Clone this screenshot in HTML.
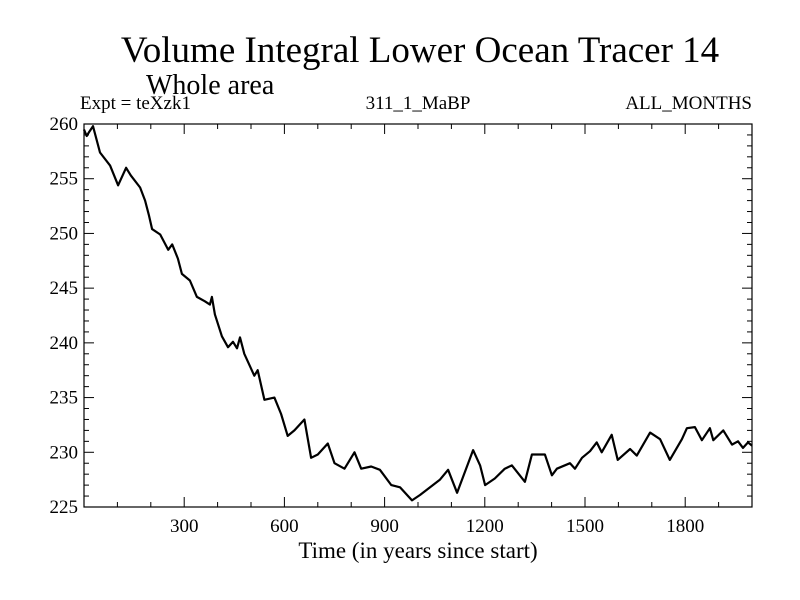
<!DOCTYPE html>
<html><head><meta charset="utf-8"><style>
body{margin:0;background:#fff;}
svg{display:block;font-family:"Liberation Serif",serif;}
</style></head><body>
<svg id="chart" width="800" height="600">
<text x="420" y="62" font-size="37" text-anchor="middle">Volume Integral Lower Ocean Tracer 14</text>
<text x="146" y="94" font-size="28">Whole area</text>
<text x="80" y="109" font-size="19">Expt = teXzk1</text>
<text x="418" y="109" font-size="19" text-anchor="middle">311_1_MaBP</text>
<text x="752" y="109" font-size="19" text-anchor="end">ALL_MONTHS</text>
<text x="418" y="558" font-size="23" text-anchor="middle">Time (in years since start)</text>
<g id="axes"></g>
<path id="line" fill="none" stroke="#000" stroke-width="2.2" stroke-linejoin="round"></path>
<rect x="84" y="124" width="668" height="383" fill="none" stroke="#000" stroke-width="1.2"></rect>
</svg>
<script>
const years = [0,8,16,27,48,78,102,126,140,168,183,194,204,228,252,264,281,293,317,338,362,377,383,392,413,431,446,458,467,480,510,520,540,570,590,610,630,660,680,700,730,750,780,810,830,860,886,920,946,982,1006,1066,1090,1117,1165,1186,1201,1230,1260,1281,1320,1341,1380,1401,1416,1455,1470,1491,1515,1535,1550,1580,1598,1635,1655,1695,1725,1754,1790,1805,1829,1850,1874,1884,1914,1940,1958,1973,1988,2000];
const values = [259.5,258.9,259.3,259.8,257.4,256.2,254.4,256.0,255.3,254.2,253.0,251.7,250.4,249.9,248.5,249.0,247.7,246.3,245.7,244.2,243.8,243.5,244.2,242.6,240.6,239.6,240.1,239.5,240.5,239.0,237.0,237.5,234.8,235.0,233.5,231.5,232.0,233.0,229.5,229.8,230.8,229.0,228.5,230.0,228.5,228.7,228.4,227.0,226.8,225.6,226.1,227.5,228.4,226.3,230.2,228.8,227.0,227.6,228.5,228.8,227.3,229.8,229.8,227.9,228.5,229.0,228.5,229.5,230.1,230.9,230.0,231.6,229.3,230.3,229.7,231.8,231.2,229.3,231.2,232.2,232.3,231.1,232.2,231.1,232.0,230.7,231.0,230.4,230.9,230.6];
const xTicks = [300,600,900,1200,1500,1800];
const yTicks = [225,230,235,240,245,250,255,260];
const X0=84,X1=752,Y0=507,Y1=124;
const xs = v => X0 + (v-0)/2000*(X1-X0);
const ys = v => Y0 - (v-225)/35*(Y0-Y1);
const ns="http://www.w3.org/2000/svg";
const axes=document.getElementById('axes');
function mk(tag,attrs){const e=document.createElementNS(ns,tag);for(const k in attrs)e.setAttribute(k,attrs[k]);axes.appendChild(e);return e;}
for(let v=100;v<2000;v+=100){
  const major=v%300===0;
  const t=mk('line',{x1:xs(v),x2:xs(v),y1:Y0,y2:Y0-(major?10:5),stroke:'#000'});
  
  
  const t2=mk('line',{x1:xs(v),x2:xs(v),y1:Y1,y2:Y1+(major?10:5),stroke:'#000'});
  
  
}
xTicks.forEach(v=>{
  const l=mk('text',{x:xs(v),y:Y0+25,'font-size':19,'text-anchor':'middle'});
  l.textContent=v;
  
  
});
for(let v=226;v<260;v+=1){
  const major=v%5===0;
  const t=mk('line',{x1:X0,x2:X0+(major?10:5),y1:ys(v),y2:ys(v),stroke:'#000'});
  
  
  const t2=mk('line',{x1:X1,x2:X1-(major?10:5),y1:ys(v),y2:ys(v),stroke:'#000'});
  
  
}
yTicks.forEach(v=>{
  const l=mk('text',{x:X0-6,y:ys(v)+6,'font-size':19,'text-anchor':'end'});
  l.textContent=v;
  
  
});
document.getElementById('line').setAttribute('d',years.map((y,i)=>(i?'L':'M')+xs(y).toFixed(1)+','+ys(values[i]).toFixed(1)).join(''));
</script>
</body></html>
